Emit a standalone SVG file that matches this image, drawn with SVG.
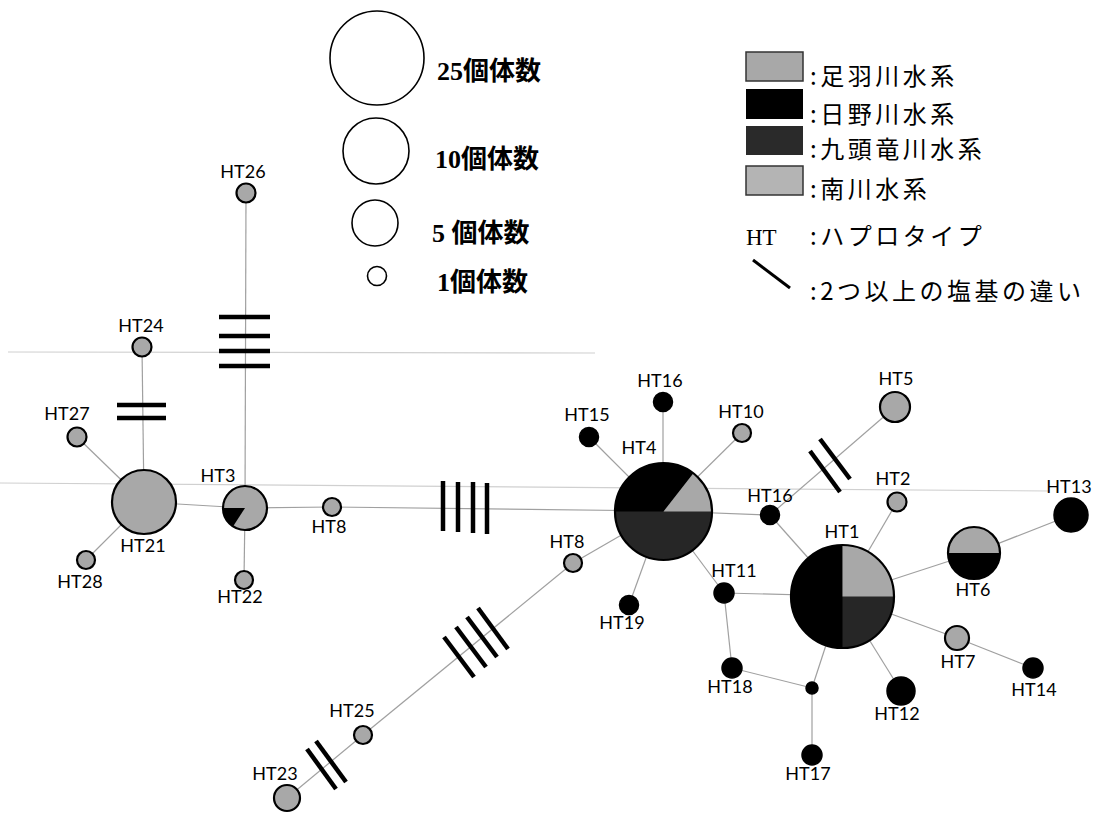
<svg xmlns="http://www.w3.org/2000/svg" width="1102" height="813" viewBox="0 0 1102 813">
<style>
.bg{fill:#fff}
.art{stroke:#d0d0d0;stroke-width:1.2;fill:none}
.edge{stroke:#a0a0a0;stroke-width:1.2;fill:none}
.bar{stroke:#000;stroke-width:4.5;fill:none}
.g{fill:#a8a8a8;stroke:#000;stroke-width:2.2}
.k{fill:#000;stroke:#000;stroke-width:1.5}
.d{fill:#262626}
.gf{fill:#a8a8a8}
.kf{fill:#000}
.ring{fill:none;stroke:#000;stroke-width:2.2}
.lbl{font-family:Lato,"Liberation Sans",sans-serif;font-size:18px;fill:#000;text-anchor:middle}
.cnt{font-family:"Liberation Serif","Noto Sans CJK JP",serif;font-weight:bold;font-size:26px;fill:#000}
.leg{font-family:"Noto Sans CJK JP",sans-serif;font-size:24px;letter-spacing:3.5px;fill:#000}
.ht{font-family:"Liberation Serif",serif;font-size:23px;fill:#000}
.lc{fill:none;stroke:#000;stroke-width:1.6}
</style>
<rect class="bg" x="0" y="0" width="1102" height="813"/>

<g id="artifacts">
<line class="art" x1="8" y1="352" x2="595" y2="353"/>
<line class="art" x1="0" y1="483" x2="1050" y2="491"/>
</g>

<g id="connectors">
<line class="edge" x1="246" y1="193" x2="245" y2="508"/>
<line class="edge" x1="142" y1="347" x2="144" y2="502"/>
<line class="edge" x1="77" y1="437" x2="144" y2="502"/>
<line class="edge" x1="86" y1="560" x2="144" y2="502"/>
<line class="edge" x1="144" y1="502" x2="245" y2="508"/>
<line class="edge" x1="245" y1="508" x2="244" y2="580"/>
<line class="edge" x1="245" y1="508" x2="332" y2="507"/>
<line class="edge" x1="332" y1="507" x2="663" y2="511"/>
<line class="edge" x1="663" y1="511" x2="663" y2="402"/>
<line class="edge" x1="663" y1="511" x2="589" y2="437"/>
<line class="edge" x1="663" y1="511" x2="742" y2="433"/>
<line class="edge" x1="663" y1="511" x2="770" y2="515"/>
<line class="edge" x1="663" y1="511" x2="573" y2="563"/>
<line class="edge" x1="663" y1="511" x2="629" y2="605"/>
<line class="edge" x1="663" y1="511" x2="724" y2="593"/>
<line class="edge" x1="770" y1="515" x2="895" y2="407"/>
<line class="edge" x1="770" y1="515" x2="842" y2="596"/>
<line class="edge" x1="842" y1="596" x2="897" y2="502"/>
<line class="edge" x1="842" y1="596" x2="974" y2="553"/>
<line class="edge" x1="974" y1="553" x2="1071" y2="515"/>
<line class="edge" x1="842" y1="596" x2="957" y2="638"/>
<line class="edge" x1="957" y1="638" x2="1033" y2="668"/>
<line class="edge" x1="842" y1="596" x2="901" y2="691"/>
<line class="edge" x1="842" y1="596" x2="812" y2="688"/>
<line class="edge" x1="812" y1="688" x2="812" y2="755"/>
<line class="edge" x1="724" y1="593" x2="842" y2="596"/>
<line class="edge" x1="724" y1="593" x2="732" y2="668"/>
<line class="edge" x1="732" y1="668" x2="812" y2="688"/>
<line class="edge" x1="573" y1="563" x2="363" y2="735"/>
<line class="edge" x1="363" y1="735" x2="287" y2="798"/>
</g>

<g id="mutation-bars">
<line class="bar" x1="219" y1="317" x2="270" y2="317"/>
<line class="bar" x1="219" y1="336" x2="270" y2="336"/>
<line class="bar" x1="219" y1="351" x2="270" y2="351"/>
<line class="bar" x1="219" y1="366" x2="270" y2="366"/>
<line class="bar" x1="117" y1="405" x2="166" y2="405"/>
<line class="bar" x1="117" y1="418" x2="166" y2="418"/>
<line class="bar" x1="443" y1="481" x2="443" y2="531"/>
<line class="bar" x1="458" y1="482" x2="458" y2="532"/>
<line class="bar" x1="473" y1="482" x2="473" y2="533"/>
<line class="bar" x1="487" y1="483" x2="487" y2="534"/>
<line class="bar" x1="810" y1="451" x2="840" y2="492"/>
<line class="bar" x1="820" y1="439" x2="850" y2="479"/>
<line class="bar" x1="444" y1="637" x2="474" y2="677"/>
<line class="bar" x1="456" y1="627" x2="486" y2="667"/>
<line class="bar" x1="467" y1="617" x2="497" y2="657"/>
<line class="bar" x1="478" y1="608" x2="508" y2="649"/>
<line class="bar" x1="307" y1="749" x2="336" y2="789"/>
<line class="bar" x1="316" y1="741" x2="346" y2="782"/>
</g>

<g id="HT26"><circle class="g" cx="246" cy="193" r="9.5"/><text class="lbl" x="243" y="178">HT26</text></g>
<g id="HT24"><circle class="g" cx="142" cy="347" r="9.5"/><text class="lbl" x="141" y="332">HT24</text></g>
<g id="HT27"><circle class="g" cx="77" cy="437" r="9.5"/><text class="lbl" x="67" y="420">HT27</text></g>
<g id="HT21"><circle class="g" cx="144" cy="502" r="32"/><text class="lbl" x="143" y="552">HT21</text></g>
<g id="HT28"><circle class="g" cx="86" cy="560" r="9"/><text class="lbl" x="80" y="588">HT28</text></g>
<g id="HT3"><circle class="gf" cx="245" cy="508" r="22"/><path class="kf" d="M245,508 L223,508 A22,22 0 0,0 233,526.5 Z"/><circle class="ring" cx="245" cy="508" r="22"/><text class="lbl" x="218" y="482">HT3</text></g>
<g id="HT22"><circle class="g" cx="244" cy="580" r="9"/><text class="lbl" x="240" y="603">HT22</text></g>
<g id="HT8a"><circle class="g" cx="332" cy="507" r="9"/><text class="lbl" x="329" y="533">HT8</text></g>

<g id="HT4">
<circle class="d" cx="663.5" cy="511.5" r="48.5"/>
<path class="kf" d="M663.5,511.5 L615,511.5 A48.5,48.5 0 0,1 693.4,473.3 Z"/>
<path class="gf" d="M663.5,511.5 L693.4,473.3 A48.5,48.5 0 0,1 712,511.5 Z"/>
<circle class="ring" cx="663.5" cy="511.5" r="48.5"/>
<text class="lbl" x="639" y="454">HT4</text>
</g>
<g id="HT16a"><circle class="k" cx="663" cy="402" r="9.5"/><text class="lbl" x="660" y="387">HT16</text></g>
<g id="HT15"><circle class="k" cx="589" cy="437" r="9.5"/><text class="lbl" x="587" y="421">HT15</text></g>
<g id="HT10"><circle class="g" cx="742" cy="433" r="9"/><text class="lbl" x="741" y="418">HT10</text></g>
<g id="HT16b"><circle class="k" cx="770" cy="515" r="9.5"/><text class="lbl" x="770" y="502">HT16</text></g>
<g id="HT8b"><circle class="g" cx="573" cy="563" r="9"/><text class="lbl" x="567" y="548">HT8</text></g>
<g id="HT19"><circle class="k" cx="629" cy="605" r="9.5"/><text class="lbl" x="622" y="629">HT19</text></g>
<g id="HT11"><circle class="k" cx="724" cy="593" r="10"/><text class="lbl" x="734" y="577">HT11</text></g>
<g id="HT5"><circle class="g" cx="895" cy="407" r="15"/><text class="lbl" x="896" y="385">HT5</text></g>
<g id="HT2"><circle class="g" cx="897" cy="502" r="9.5"/><text class="lbl" x="893" y="485">HT2</text></g>
<g id="HT13"><circle class="k" cx="1071" cy="515" r="17"/><text class="lbl" x="1069" y="493">HT13</text></g>
<g id="HT6">
<circle class="kf" cx="974" cy="553" r="26"/>
<path class="gf" d="M948,553 A26,26 0 0,1 1000,553 Z"/>
<circle class="ring" cx="974" cy="553" r="26"/>
<text class="lbl" x="973" y="596">HT6</text>
</g>
<g id="HT1">
<circle class="d" cx="842.5" cy="596.5" r="51.5"/>
<path class="kf" d="M842.5,596.5 L842.5,545 A51.5,51.5 0 0,0 842.5,648 Z"/>
<path class="gf" d="M842.5,596.5 L894,596.5 A51.5,51.5 0 0,0 842.5,545 Z"/>
<circle class="ring" cx="842.5" cy="596.5" r="51.5"/>
<text class="lbl" x="842" y="538">HT1</text>
</g>
<g id="HT7"><circle class="g" cx="957" cy="638" r="12"/><text class="lbl" x="958" y="668">HT7</text></g>
<g id="HT14"><circle class="k" cx="1033" cy="668" r="10"/><text class="lbl" x="1034" y="696">HT14</text></g>
<g id="HT12"><circle class="k" cx="901" cy="691" r="14"/><text class="lbl" x="897" y="720">HT12</text></g>
<g id="median"><circle class="k" cx="812" cy="688" r="6"/></g>
<g id="HT17"><circle class="k" cx="812" cy="755" r="10"/><text class="lbl" x="808" y="780">HT17</text></g>
<g id="HT18"><circle class="k" cx="732" cy="668" r="10"/><text class="lbl" x="730" y="693">HT18</text></g>
<g id="HT25"><circle class="g" cx="363" cy="735" r="9"/><text class="lbl" x="352" y="717">HT25</text></g>
<g id="HT23"><circle class="g" cx="287" cy="798" r="13"/><text class="lbl" x="275" y="780">HT23</text></g>

<g id="legend-size">
<circle class="lc" cx="377" cy="58" r="47"/>
<text class="cnt" x="437" y="80">25個体数</text>
<circle class="lc" cx="376" cy="151" r="33"/>
<text class="cnt" x="435" y="168">10個体数</text>
<circle class="lc" cx="375" cy="223" r="23"/>
<text class="cnt" x="432" y="242">5 個体数</text>
<circle class="lc" cx="377" cy="276" r="9.5"/>
<text class="cnt" x="437" y="291">1個体数</text>
</g>

<g id="legend-river">
<rect x="746" y="52" width="57" height="29" fill="#a8a8a8" stroke="#333" stroke-width="1.5"/>
<text class="leg" x="810" y="85">:足羽川水系</text>
<rect x="746" y="89" width="57" height="30" fill="#000"/>
<text class="leg" x="810" y="123">:日野川水系</text>
<rect x="746" y="126" width="57" height="29" fill="#2a2a2a"/>
<text class="leg" x="810" y="158">:九頭竜川水系</text>
<rect x="746" y="166" width="57" height="29" fill="#b4b4b4" stroke="#333" stroke-width="1.5"/>
<text class="leg" x="810" y="198">:南川水系</text>
<text class="ht" x="746" y="245">HT</text>
<text class="leg" x="810" y="245" letter-spacing="1.5">:ハプロタイプ</text>
<line x1="753" y1="260" x2="790" y2="288" stroke="#000" stroke-width="3"/>
<text class="leg" x="810" y="300">:2つ以上の塩基の違い</text>
</g>
</svg>
